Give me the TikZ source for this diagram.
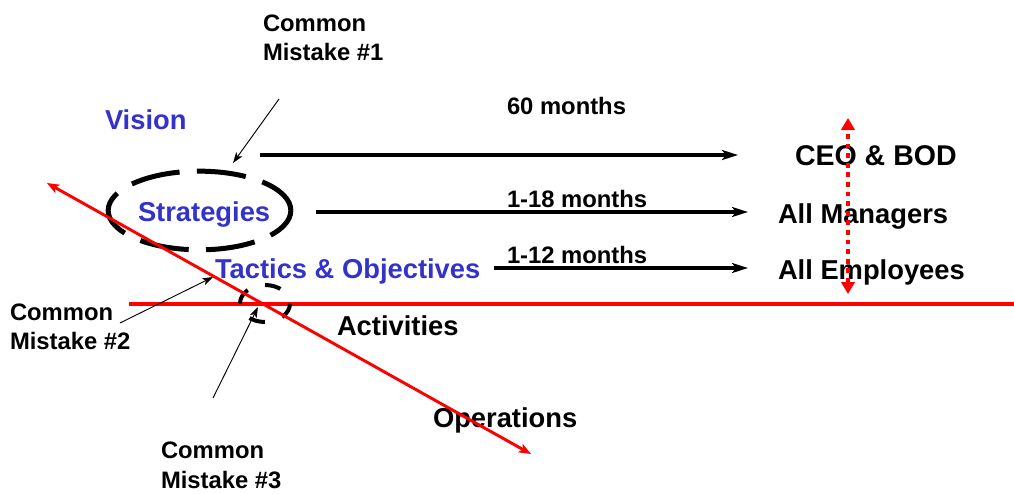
\documentclass[tikz,border=0pt]{standalone}
\usepackage{fontspec}
\setmainfont{Liberation Sans}
\usetikzlibrary{arrows.meta,shapes.geometric}
\definecolor{tblue}{RGB}{51,51,204}
\definecolor{tred}{RGB}{255,0,0}
\tikzset{
  lbl/.style={anchor=base west,inner sep=0pt,outer sep=0pt,font=\bfseries\fontsize{17.85}{21}\selectfont},
  big/.style={anchor=base west,inner sep=0pt,outer sep=0pt,font=\bfseries\fontsize{20.5}{24}\selectfont},
  bluebig/.style={big,text=tblue},
  timearrow/.style={line width=2.4pt,-{Stealth[length=12pt,width=7.5pt,inset=3pt]}},
  pointer/.style={line width=0.7pt,-{Stealth[length=8pt,width=5.5pt,inset=2pt]}},
  redline/.style={tred,line width=3pt},
  reddiag/.style={tred,line width=2.2pt,{Stealth[length=9pt,width=7pt,inset=2pt]}-{Stealth[length=9pt,width=7pt,inset=2pt]}},
  reddots/.style={tred,line width=3.6pt,dash pattern=on 3.6pt off 3.6pt,{Triangle[length=9pt,width=10pt]}-{Triangle[length=9pt,width=10pt]}},
  bigring/.style={ellipse,draw,line width=3.75pt,dash pattern=on 37pt off 13pt,dash phase=5pt,minimum width=137pt,minimum height=59pt,inner sep=0pt},
  smallring/.style={ellipse,draw,line width=3pt,dash pattern=on 12pt off 13.7pt,dash phase=12pt,minimum width=37.5pt,minimum height=27.75pt,inner sep=0pt}
}
\begin{document}
\begin{tikzpicture}[x=0.75pt,y=-0.75pt]
\useasboundingbox (0,0) rectangle (1014,493);
% red structure lines
\coordinate (hl) at (129,304);
\coordinate (hr) at (1014,304);
\draw[redline] (hl) -- (hr);
\coordinate (dtop) at (47,183);
\coordinate (dbot) at (531,454);
% rings
\node[bigring] (ring1) at (199.5,210.5) {};
\node[smallring] (ring2) at (265,303.5) {};
% texts
\node[lbl] (m1a) at (263,31) {Common};
\node[lbl] (m1b) at (263,60) {Mistake \#1};
\node[bluebig] (vision) at (105,129) {Vision};
\node[lbl] (t60) at (507,114) {60 months};
\node[big,font=\bfseries\fontsize{21.4}{24}\selectfont] (ceo) at (795,165) {CEO \& BOD};
\node[bluebig] (strat) at (138,221) {Strategies};
\node[lbl] (t18) at (507,207) {1-18 months};
\node[big] (mgr) at (778,223) {All Managers};
\node[bluebig] (tact) at (215,278) {Tactics \& Objectives};
\node[lbl] (t12) at (507,263) {1-12 months};
\node[big] (emp) at (778,279) {All Employees};
\node[big] (act) at (337,335) {Activities};
\node[big] (ops) at (433,427) {Operations};
\node[lbl] (m2a) at (10,320) {Common};
\node[lbl] (m2b) at (10,349) {Mistake \#2};
\node[lbl] (m3a) at (161,458) {Common};
\node[lbl] (m3b) at (161,488) {Mistake \#3};
% time arrows
\coordinate (a1s) at (260,155);
\coordinate (a1e) at (738,155);
\coordinate (a2s) at (316,212);
\coordinate (a2e) at (748,212);
\coordinate (a3s) at (494,268);
\coordinate (a3e) at (748,268);
\draw[timearrow] (a1s) -- (a1e);
\draw[timearrow] (a2s) -- (a2e);
\draw[timearrow] (a3s) -- (a3e);
% pointers
\coordinate (p1s) at (279,99);
\coordinate (p1e) at (233,163);
\coordinate (p2s) at (120,323);
\coordinate (p2e) at (213,277);
\coordinate (p3s) at (213,398);
\coordinate (p3e) at (258,307);
\draw[pointer] (p1s) -- (p1e);
\draw[pointer] (p2s) -- (p2e);
\draw[pointer] (p3s) -- (p3e);
% red diagonal and dotted level arrow
\draw[reddiag] (dbot) -- (dtop);
\coordinate (vt) at (848,118);
\coordinate (vb) at (848,294);
\draw[reddots] (vb) -- (vt);
\end{tikzpicture}
\end{document}
